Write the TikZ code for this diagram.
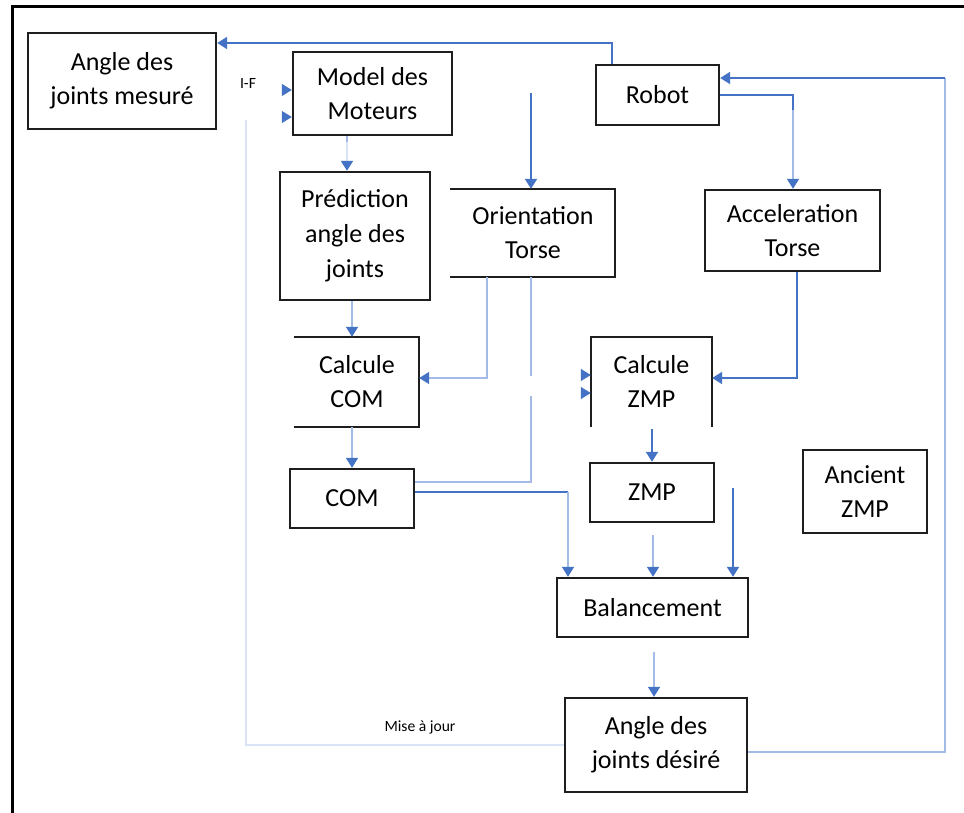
\documentclass[tikz,border=0pt]{standalone}
\usepackage{fontspec}
\setmainfont{Carlito}
\usetikzlibrary{arrows.meta}
\definecolor{flowblue}{HTML}{4472C4}
\definecolor{paleblue}{HTML}{A3BBE6}
\definecolor{faintblue}{HTML}{D9E3F5}
\definecolor{boxgray}{HTML}{1E1E1E}
\tikzset{
  box/.style={draw=boxgray, line width=1.2pt, inner sep=0pt, align=center,
    font=\fontsize{13}{17}\selectfont},
  openbox/.style={box, draw=none},
  boxline/.style={draw=boxgray, line width=1.2pt, line cap=rect},
  wire/.style={draw=flowblue, line width=1pt},
  pale/.style={draw=paleblue, line width=0.8pt},
  faint/.style={draw=faintblue, line width=1pt},
  tip/.style={-{Triangle[width=6pt,length=5pt,color=flowblue,fill=flowblue]}},
  stub/.style={draw=white, line width=0.5pt, tip},
  small/.style={font=\fontsize{7.8}{9}\selectfont, inner sep=0pt}
}
\begin{document}
\begin{tikzpicture}[x=0.5pt, y=-0.5pt]
\useasboundingbox (0,0) rectangle (964,813);
\fill[white] (0,0) rectangle (964,813);

% page frame (left and top edges)
\draw[black, line width=1.5pt] (12,813) -- (12,7) -- (964,7);

% blocks
\node[box, minimum width=94pt, minimum height=48pt] (mes) at (122,81) {Angle des\\joints mesuré};
\node[box, minimum width=79.5pt, minimum height=41.5pt] (mod) at (372.5,93.5) {Model des\\Moteurs};
\node[box, minimum width=61.5pt, minimum height=30pt] (rob) at (657.5,95) {Robot};
\node[box, minimum width=75pt, minimum height=64pt, font=\fontsize{13}{17.5}\selectfont] (pred) at (355,236) {Prédiction\\angle des\\joints};
\node[openbox, minimum width=81pt, minimum height=43pt] (ori) at (533,233) {Orientation\\Torse};
\node[box, minimum width=87.5pt, minimum height=40.5pt] (acc) at (792.5,230.5) {Acceleration\\Torse};
\node[openbox, minimum width=61pt, minimum height=44pt] (ccom) at (357,382) {Calcule\\COM};
\node[openbox, minimum width=59.5pt, minimum height=43.5pt] (czmp) at (651.5,381.5) {Calcule\\ZMP};
\node[box, minimum width=62pt, minimum height=29.5pt] (com) at (352,498.5) {COM};
\node[box, minimum width=62pt, minimum height=29.5pt] (zmp) at (652,492.5) {ZMP};
\node[box, minimum width=62pt, minimum height=41.5pt] (anc) at (865,491.5) {Ancient\\ZMP};
\node[box, minimum width=95.5pt, minimum height=29.5pt] (bal) at (652.5,607.5) {Balancement};
\node[box, minimum width=91pt, minimum height=47pt] (des) at (656,745) {Angle des\\joints désiré};

% blocks drawn with one side left open
\draw[boxline] (ori.north west) -- (ori.north east) -- (ori.south east) -- (ori.south west);
\draw[boxline] (ccom.north west) -- (ccom.north east) -- (ccom.south east) -- (ccom.south west);
\draw[boxline] (czmp.south west) -- (czmp.north west) -- (czmp.north east) -- (czmp.south east);

% small labels
\node[small] (lif) at (248,83) {I-F};
\node[small] (lmaj) at (420,727) {Mise à jour};

% bend points and free ends
\coordinate (k1) at (612,43);
\coordinate (k2) at (945,752);
\coordinate (k3) at (945,78);
\coordinate (k4) at (793,95);
\coordinate (k4b) at (793,110);
\coordinate (k5) at (531,93);
\coordinate (k6) at (347,0);
\coordinate (k6b) at (347,142);
\coordinate (k7) at (352,0);
\coordinate (k8) at (487,378);
\coordinate (k9) at (531,376);
\coordinate (k10) at (531,396);
\coordinate (k11) at (531,482);
\coordinate (k12) at (568,492);
\coordinate (k13) at (653,535);
\coordinate (k14) at (733,488);
\coordinate (k15) at (797,378);
\coordinate (k16) at (654,652);
\coordinate (k17) at (246,745);
\coordinate (k18) at (246,120);
\coordinate (s1) at (281,90);
\coordinate (s2) at (281,117);
\coordinate (s3) at (579,375);
\coordinate (s4) at (579,393);

% measured joint angles from the robot
\draw[wire, tip] (rob.north -| k1) -- (k1) -- (mes.east |- k1);
% desired joint angles back to the robot
\draw[pale] (des.east |- k2) -- (k2) -- (k3);
\draw[wire, tip] (k3) -- (rob.east |- k3);
% robot to torso acceleration
\draw[wire] (rob.east |- k4) -- (k4) -- (k4b);
\draw[pale, tip] (k4b) -- (acc.north -| k4);
% torso orientation input
\draw[wire, tip] (k5) -- (ori.north -| k5);
% motor model to joint prediction
\draw[pale] (mod.south -| k6) -- (k6b);
\draw[faint, tip] (k6b) -- (pred.north -| k6);
% joint prediction to COM computation
\draw[pale, tip] (pred.south -| k7) -- (ccom.north -| k7);
% orientation to COM computation
\draw[pale, tip] (ori.south -| k8) -- (k8) -- (ccom.east |- k8);
% orientation towards COM
\draw[pale] (ori.south -| k9) -- (k9);
\draw[pale] (k10) -- (k11) -- (com.east |- k11);
% COM computation to COM
\draw[pale, tip] (ccom.south -| com.north) -- (com.north);
% COM to balancing
\draw[wire] (com.east |- k12) -- (k12);
\draw[pale, tip] (k12) -- (bal.north -| k12);
% ZMP computation to ZMP
\draw[wire, tip] (czmp.south -| zmp.north) ++(0,3) -- (zmp.north);
% ZMP to balancing
\draw[pale, tip] (k13) -- (bal.north -| k13);
\draw[wire, tip] (k14) -- (bal.north -| k14);
% torso acceleration to ZMP computation
\draw[wire, tip] (acc.south -| k15) -- (k15) -- (czmp.east |- k15);
% balancing to desired joint angles
\draw[pale, tip] (k16) -- (des.north -| k16);
% update loop
\draw[faint] (des.west |- k17) -- (k17) -- (k18);
% input tips
\draw[stub] (s1) -- (mod.west |- s1);
\draw[stub] (s2) -- (mod.west |- s2);
\draw[stub] (s3) -- (czmp.west |- s3);
\draw[stub] (s4) -- (czmp.west |- s4);
\end{tikzpicture}
\end{document}
